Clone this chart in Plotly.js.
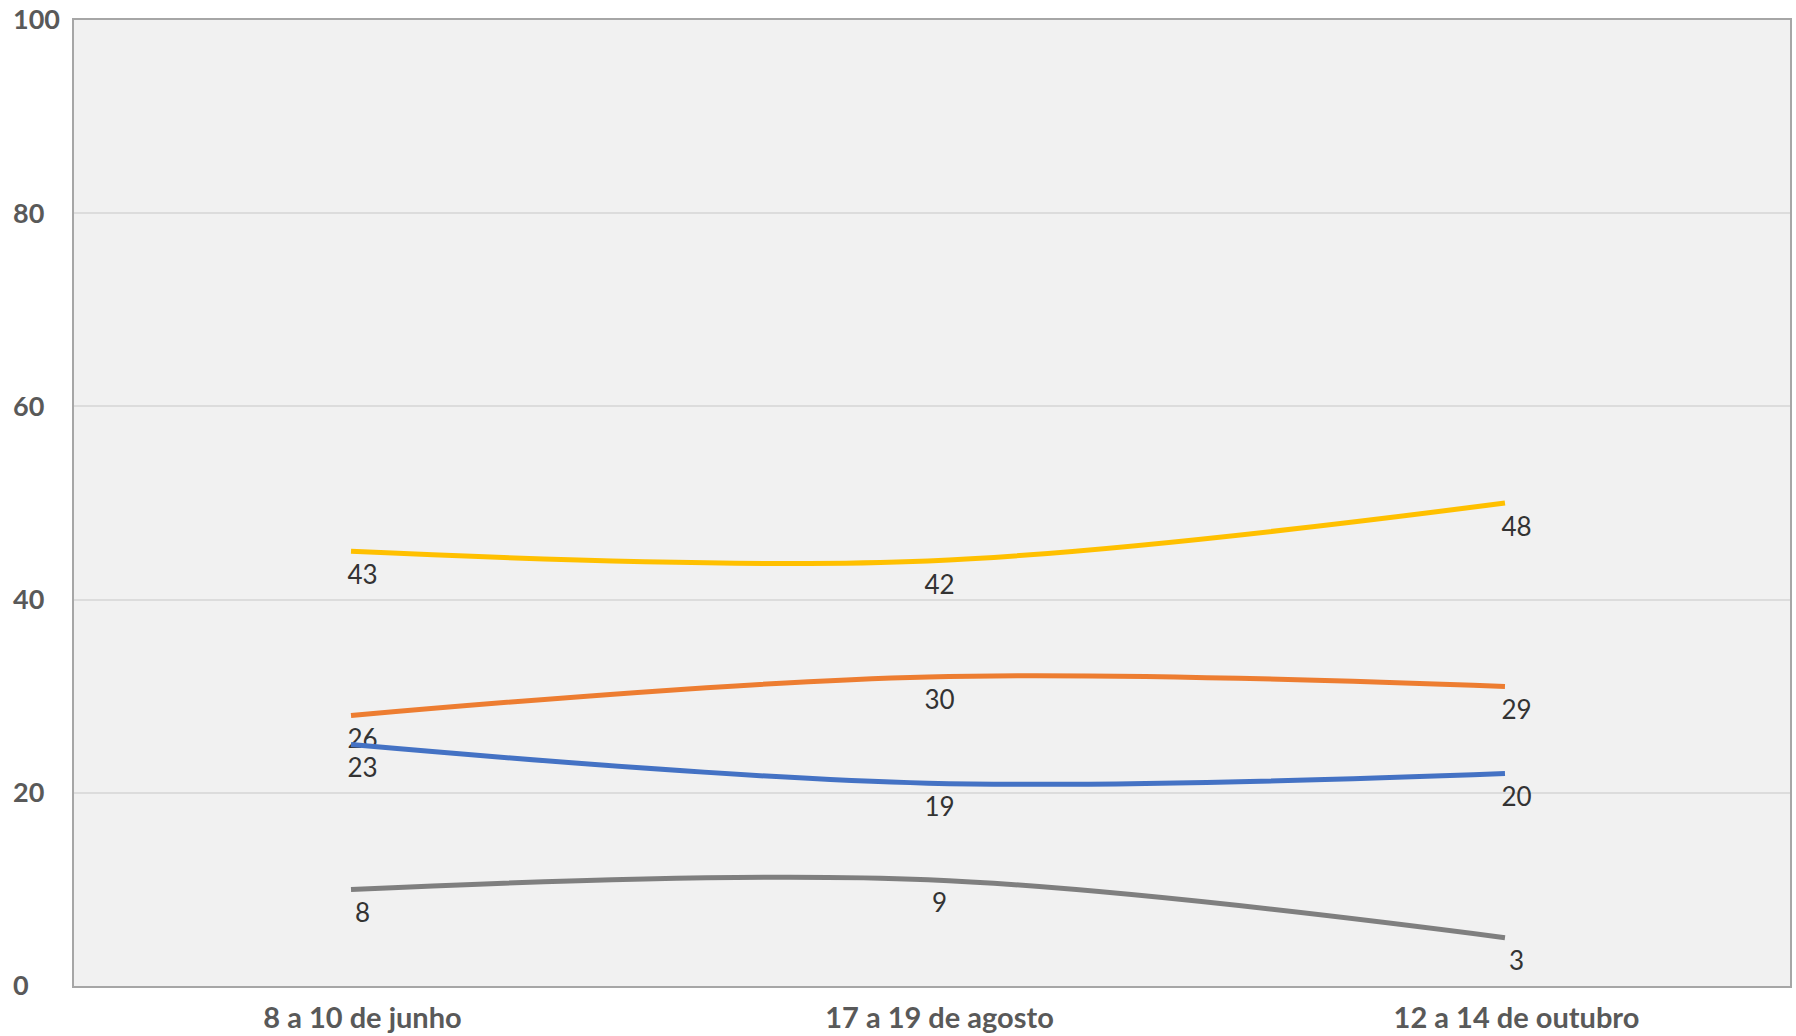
<!DOCTYPE html>
<html>
<head>
<meta charset="utf-8">
<script src="https://cdn.plot.ly/plotly-3.0.1.min.js"></script>
<style>
html,body{margin:0;padding:0;background:#fff;overflow:hidden;}
#chart{width:1796px;height:1036px;}
</style>
</head>
<body>
<div id="chart"></div>
<script>
// Data
const categories = ["8 a 10 de junho", "17 a 19 de agosto", "12 a 14 de outubro"];
const seriesYellow = [43, 42, 48];
const seriesOrange = [26, 30, 29];
const seriesBlue = [23, 19, 20];
const seriesGray = [8, 9, 3];
const yTicks = [0, 20, 40, 60, 80, 100];

const colors = {yellow: "#FFC000", orange: "#ED7D31", blue: "#4472C4", gray: "#7F7F7F"};
const seriesList = [
  {vals: seriesYellow, color: colors.yellow},
  {vals: seriesOrange, color: colors.orange},
  {vals: seriesBlue, color: colors.blue},
  {vals: seriesGray, color: colors.gray}
];

const traces = [];
// empty trace on the main axes (gridlines / frame)
traces.push({type: "scatter", mode: "none", x: [], y: [], xaxis: "x", yaxis: "y", hoverinfo: "skip", showlegend: false});
// smoothed lines
seriesList.forEach(s => {
  traces.push({
    type: "scatter", mode: "lines",
    x: categories, y: s.vals,
    xaxis: "x2", yaxis: "y2",
    line: {color: s.color, width: 5, shape: "spline", smoothing: 1},
    hoverinfo: "skip", showlegend: false
  });
});
// data labels
seriesList.forEach(s => {
  traces.push({
    type: "scatter", mode: "text",
    x: categories, y: s.vals,
    xaxis: "x", yaxis: "y4",
    text: s.vals.map(String),
    textposition: "middle center",
    textfont: {family: "Lato, 'Open Sans', sans-serif", size: 26, color: "#333333"},
    hoverinfo: "skip", showlegend: false
  });
});
// empty trace so the tick-label axis is drawn
traces.push({type: "scatter", mode: "none", x: [], y: [], xaxis: "x", yaxis: "y3", hoverinfo: "skip", showlegend: false});

const layout = {
  width: 1796, height: 1036,
  margin: {l: 12, r: 6, t: 20, b: 50},
  paper_bgcolor: "#ffffff",
  plot_bgcolor: "#f1f1f1",
  showlegend: false,
  xaxis: {
    type: "category",
    domain: [0.0349, 1],
    range: [-0.5, 2.474],
    showline: true, linecolor: "#a6a6a6", linewidth: 2, mirror: true,
    showgrid: false, zeroline: false, ticks: "",
    ticklabelstandoff: 5,
    tickfont: {family: "Lato, 'Open Sans', sans-serif", size: 29, color: "#595959", weight: 700},
    fixedrange: true
  },
  xaxis2: {
    type: "category", overlaying: "x",
    range: [-0.48, 2.494],
    visible: false, fixedrange: true
  },
  yaxis: {
    range: [0, 100],
    tickvals: yTicks,
    showticklabels: false,
    showgrid: true, gridcolor: "#dcdcdc", gridwidth: 2,
    zeroline: false,
    showline: true, linecolor: "#a6a6a6", linewidth: 2, mirror: true,
    ticks: "", fixedrange: true
  },
  yaxis2: {
    overlaying: "y", range: [-2, 98],
    visible: false, fixedrange: true
  },
  yaxis4: {
    overlaying: "y", range: [0.7, 100.7],
    visible: false, fixedrange: true
  },
  yaxis3: {
    overlaying: "y", anchor: "free", position: 0, side: "right",
    range: [0, 100],
    tickvals: yTicks,
    ticktext: yTicks.map(String),
    ticklabelposition: "outside",
    ticklabelstandoff: 0,
    showgrid: false, zeroline: false, showline: false, ticks: "",
    tickfont: {family: "Lato, 'Open Sans', sans-serif", size: 27, color: "#595959", weight: 700},
    fixedrange: true
  }
};

Plotly.newPlot("chart", traces, layout, {displayModeBar: false, staticPlot: true});
</script>
</body>
</html>
